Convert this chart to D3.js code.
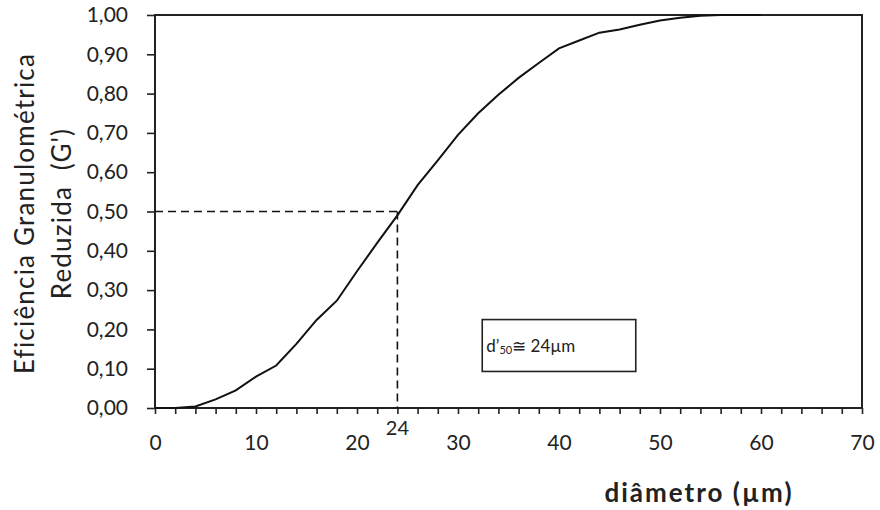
<!DOCTYPE html>
<html>
<head>
<meta charset="utf-8">
<style>
  body { margin: 0; background: #fff; }
  svg text { font-family: Lato, "Open Sans", sans-serif; fill: #222; }
</style>
<script src="https://d3js.org/d3.v7.min.js"></script>
</head>
<body>
<svg id="chart" width="880" height="510"></svg>
<script>
// diameter (um) and reduced granulometric efficiency G'
var diameters = [0, 2, 4, 6, 8, 10, 12, 14, 16, 18, 20, 22, 24, 26, 28, 30,
                 32, 34, 36, 38, 40, 42, 44, 46, 48, 50, 52, 54, 56, 58, 60];
var efficiency = [0, 0, 0.004, 0.022, 0.045, 0.08, 0.108, 0.163, 0.224, 0.273, 0.348, 0.42, 0.49, 0.567, 0.63, 0.695,
                  0.75, 0.797, 0.84, 0.878, 0.915, 0.935, 0.955, 0.963, 0.975, 0.986, 0.993, 0.998, 1.0, 1.0, 1.0];
var xTicks = [0, 10, 20, 30, 40, 50, 60, 70];
var yTicks = [0, 0.1, 0.2, 0.3, 0.4, 0.5, 0.6, 0.7, 0.8, 0.9, 1.0];
var d50 = 24;
var g50 = 0.5;

var margin = {top: 15, right: 18, bottom: 102, left: 155};
var svg = d3.select("#chart");
var W = 880 - margin.left - margin.right;
var H = 510 - margin.top - margin.bottom;
var g = svg.append("g").attr("transform", "translate(" + margin.left + "," + margin.top + ")");

var x = d3.scaleLinear().domain([0, 70]).range([0, W]);
var y = d3.scaleLinear().domain([0, 1]).range([H, 0]);

var comma = d3.formatLocale({decimal: ",", thousands: ".", grouping: [3], currency: ["", ""]});
var fmtY = comma.format(".2f");

// x axis: minor ticks every 2, labels at tens
var xAxis = d3.axisBottom(x)
  .tickValues(d3.range(0, 71, 2))
  .tickSize(6)
  .tickPadding(21)
  .tickFormat(function(d) { return xTicks.indexOf(d) >= 0 ? d : ""; });
var gx = g.append("g").attr("transform", "translate(0," + H + ")").call(xAxis);
gx.selectAll("text").style("font-size", "21px");

var yAxis = d3.axisLeft(y)
  .tickValues(yTicks)
  .tickSize(8)
  .tickPadding(19)
  .tickFormat(fmtY);
var gy = g.append("g").call(yAxis);
gy.selectAll("text").style("font-size", "21px");

[gx, gy].forEach(function(a) {
  a.select(".domain").remove();
  a.selectAll(".tick line").attr("stroke", "#222").attr("stroke-width", 1.6);
});

// frame
g.append("rect")
  .attr("x", 0).attr("y", 0).attr("width", W).attr("height", H)
  .attr("fill", "none").attr("stroke", "#222").attr("stroke-width", 2);

// curve
var line = d3.line()
  .x(function(d, i) { return x(diameters[i]); })
  .y(function(d) { return y(d); });
g.append("path")
  .datum(efficiency)
  .attr("d", line)
  .attr("fill", "none")
  .attr("stroke", "#111")
  .attr("stroke-width", 2);

// d50 dashed guides
g.append("line")
  .attr("x1", x(0)).attr("x2", x(d50)).attr("y1", y(g50)).attr("y2", y(g50))
  .attr("stroke", "#111").attr("stroke-width", 1.6).attr("stroke-dasharray", "8,5");
g.append("line")
  .attr("x1", x(d50)).attr("x2", x(d50)).attr("y1", y(g50)).attr("y2", y(0))
  .attr("stroke", "#111").attr("stroke-width", 1.6).attr("stroke-dasharray", "8,5");
g.append("text")
  .attr("x", x(d50)).attr("y", H + 27)
  .attr("text-anchor", "middle")
  .style("font-size", "20px")
  .text(d50);

// annotation box
g.append("rect")
  .attr("x", x(32.4)).attr("y", y(0.225))
  .attr("width", x(15.2) - x(0)).attr("height", y(0) - y(0.132))
  .attr("fill", "#fff").attr("stroke", "#222").attr("stroke-width", 1.6);
var ann = g.append("text")
  .attr("x", x(32.8)).attr("y", y(0.143))
  .style("font-size", "17px");
ann.append("tspan").text("d\u2019");
ann.append("tspan").style("font-size", "11px").attr("dy", 2).text("50");
ann.append("tspan").attr("dy", -2).text("\u2245 " + d50 + "\u00b5m");

// axis titles
svg.append("text")
  .attr("x", 699).attr("y", 502)
  .attr("text-anchor", "middle")
  .style("font-size", "26px").style("font-weight", "bold")
  .style("letter-spacing", "2px")
  .text("di\u00e2metro (\u00b5m)");

var yt = svg.append("text")
  .attr("transform", "translate(0," + (margin.top + H / 2 + 2) + ") rotate(-90)")
  .attr("text-anchor", "middle")
  .attr("xml:space", "preserve")
  .style("font-size", "26px")
  .style("letter-spacing", "1.2px");
yt.append("tspan").attr("x", 0).attr("y", 34).text("Efici\u00eancia Granulom\u00e9trica");
yt.append("tspan").attr("x", 0).attr("y", 71).text("Reduzida  (G')");
</script>
</body>
</html>
